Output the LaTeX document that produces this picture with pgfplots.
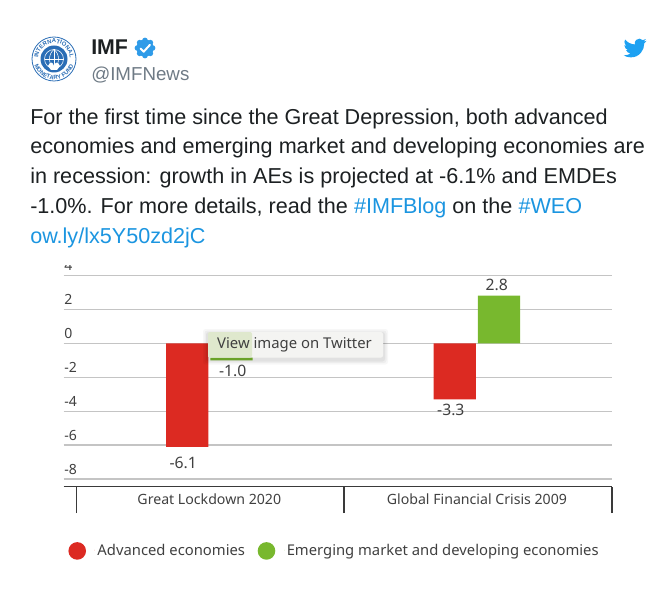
\documentclass[border=0pt]{standalone}
\usepackage{fontspec}
\setmainfont{Liberation Sans}
\newfontfamily\chartfont{Noto Sans}
\usepackage{pgfplots}
\pgfplotsset{compat=1.18}
\usetikzlibrary{svg.path,decorations.text}
\definecolor{gridc}{HTML}{C4C4C4}
\definecolor{axc}{HTML}{3A3A3A}
\definecolor{txtc}{HTML}{404040}
\definecolor{redb}{HTML}{DC2A22}
\definecolor{greenb}{HTML}{78B82E}
\definecolor{twblue}{HTML}{1B95E0}
\definecolor{birdc}{HTML}{1DA1F2}
\definecolor{badge}{HTML}{2F9BE8}
\definecolor{sealb}{HTML}{2A6DB5}
\definecolor{handle}{HTML}{6E7A85}
\definecolor{body}{HTML}{1C2022}
\definecolor{tipc}{HTML}{F4F4F2}
\definecolor{tipg}{HTML}{DFE8CD}
\newcommand{\tw}{\fontsize{16.2pt}{18pt}\selectfont\color{body}}
\newcommand{\lnk}[1]{\textcolor{twblue}{#1}}
\begin{document}
\begin{tikzpicture}
\path[use as bounding box] (0,0) rectangle (659*0.75pt,-591*0.75pt);
\begin{axis}[
  at={(63.5*0.75pt,-486.5*0.75pt)}, anchor=south west,
  scale only axis, width=411.4pt, height=158.4pt,
  ybar=1.43pt, bar width=31.7pt,
  xmin=-0.5448, xmax=1.5049, ymin=-8.43, ymax=4,
  axis lines*=left, axis line style={-},
  y axis line style={draw=none},
  x axis line style={draw=axc, line width=1.1pt},
  clip=false,
  tick align=outside,
  ytick={-8,-6,-4,-2,0,2,4},
  yticklabels={-8,-6,-4,-2,0,2,4},
  ymajorgrids, grid style={gridc, line width=1.1pt},
  major tick length=0pt,
  yticklabel style={anchor=south west, font=\chartfont\fontsize{10.5pt}{12pt}\selectfont, text=txtc, inner sep=0pt, xshift=0.4pt, yshift=3.1pt},
  xtick={0,1},
  xticklabels={Great Lockdown 2020,Global Financial Crisis 2009},
  xticklabel style={font=\chartfont\fontsize{10.6pt}{12pt}\selectfont, text=txtc, inner sep=0pt, yshift=-5.5pt},
  extra x ticks={-0.4955,0.5034,1.5049},
  extra x tick labels={},
  extra x tick style={major tick length=20pt, tick style={draw=axc, line width=0.9pt}, grid=none},
  nodes near coords,
  point meta=y,
  every node near coord/.append style={font=\chartfont\fontsize{11.8pt}{12pt}\selectfont, text=txtc, inner sep=3.2pt, /pgf/number format/.cd, fixed, fixed zerofill, precision=1, assume math mode=true},
  legend style={at={(0.0085,-0.305)}, anchor=west, draw=none, fill=none, inner sep=0pt, font=\chartfont\fontsize{11.1pt}{12pt}\selectfont, text=txtc, /tikz/every even column/.append style={column sep=7.5pt}},
  legend columns=2, legend cell align=left,
  legend image code/.code={\fill[#1,draw=none] (0cm,0cm) circle (6.6pt);\path (13.2pt,0pt) -- (13.2pt,1pt);},
]
\addplot[fill=redb, draw=none, coordinate style/.condition={\coordindex==0}{xshift=-3pt,yshift=-4pt}, coordinate style/.condition={\coordindex==1}{xshift=-3pt}] coordinates {(0,-6.1) (1,-3.3)};
\addplot[fill=greenb, draw=none, coordinate style/.condition={\coordindex==0}{xshift=1pt}, coordinate style/.condition={\coordindex==1}{xshift=-1.7pt}] coordinates {(0,-1.0) (1,2.8)};
\legend{Advanced economies,Emerging market and developing economies}
\end{axis}
\begin{scope}[x=0.75pt,y=-0.75pt]
% cover of the clipped top label
\fill[white] (55,252) rectangle (90,265);
% tooltip
\foreach \o/\a in {5/0.03,3.5/0.04,2/0.05}{\fill[black,opacity=\a,rounded corners=2pt] (208-\o,332-\o+2) rectangle (383+\o,357.5+\o+2);}
\fill[tipc,rounded corners=1.5pt] (208,332) rectangle (383,357.5);
\fill[tipg,rounded corners=1.5pt] (208,332) rectangle (252,357.5);
\node[anchor=center,inner sep=0pt,text=txtc,font=\chartfont\fontsize{11.15pt}{12pt}\selectfont] at (294.5,345) {View image on Twitter};
% tweet text
\node[anchor=base west,inner sep=0pt] at (30,124.5) {\tw For the first time since the Great Depression, both advanced};
\node[anchor=base west,inner sep=0pt] at (30,154) {\tw economies and emerging market and developing economies are};
\node[anchor=base west,inner sep=0pt] at (30,183.5) {\tw in recession: growth in AEs is projected at -6.1\% and EMDEs};
\node[anchor=base west,inner sep=0pt] at (30,213.5) {\tw -1.0\%. For more details, read the \lnk{\#IMFBlog} on the \lnk{\#WEO}};
\node[anchor=base west,inner sep=0pt] at (30,243.5) {\tw \lnk{ow.ly/lx5Y50zd2jC}};
% header
\node[anchor=base west,inner sep=0pt] at (91,55) {\fontsize{16pt}{18pt}\selectfont\bfseries\color{body} IMF};
\node[anchor=base west,inner sep=0pt] at (91,80.5) {\fontsize{14.05pt}{16pt}\selectfont\color{handle} @IMFNews};
% badge
\fill[badge] (145,48) circle (8.6);
\foreach \t in {0,45,...,315}{\fill[badge] (145,48) ++(\t:7.6) circle (2.8);}
\draw[white,line width=1.5pt,line cap=round,line join=round] (140.5,48.5) -- (143.7,51.7) -- (150,44.8);
% seal
\draw[sealb,line width=0.6pt] (54,59) circle (22);
\fill[sealb] (54,59) circle (13.5);
\draw[white,line width=0.4pt] (54,59) circle (9.5);
\draw[white,line width=0.4pt] (44.5,59) -- (63.5,59) (54,49.5) -- (54,68.5);
\draw[white,line width=0.4pt] (54,49.5) .. controls (48,54) and (48,64) .. (54,68.5) .. controls (60,64) and (60,54) .. (54,49.5);
\fill[white] (48,66) .. controls (50,61) and (53,62) .. (54,66) .. controls (55,62) and (58,61) .. (60,66) -- (57,70) -- (51,70) -- cycle;
\path[postaction={decorate},decoration={text along path,text align=center,text={|\fontsize{4.4pt}{5pt}\selectfont\bfseries\color{sealb}|INTERNATIONAL}}] (38,59) arc[start angle=180,end angle=360,radius=16];
\path[postaction={decorate},decoration={text along path,text align=center,text={|\fontsize{4.4pt}{5pt}\selectfont\bfseries\color{sealb}|MONETARY FUND}}] (33.5,59) arc[start angle=180,end angle=0,radius=20.5];
\end{scope}
% bird
\begin{scope}[shift={(623.5*0.75pt,-36.5*0.75pt)},x=0.75pt,y=-0.75pt]
\fill[birdc,xscale=1,yscale=-1,scale=0.72] svg[scale=1] "M23.953 4.57 a10 10 0 0 1 -2.825 0.775 4.958 4.958 0 0 0 2.163 -2.723 c-0.951 0.555 -2.005 0.959 -3.127 1.184 a4.92 4.92 0 0 0 -8.384 4.482 C7.69 8.095 4.067 6.13 1.64 3.162 a4.822 4.822 0 0 0 -0.666 2.475 c0 1.71 0.87 3.213 2.188 4.096 a4.904 4.904 0 0 1 -2.228 -0.616 v0.06 a4.923 4.923 0 0 0 3.946 4.827 4.996 4.996 0 0 1 -2.212 0.085 4.936 4.936 0 0 0 4.604 3.417 9.867 9.867 0 0 1 -6.102 2.105 c-0.39 0 -0.779 -0.023 -1.17 -0.067 a13.995 13.995 0 0 0 7.557 2.209 c9.053 0 13.998 -7.496 13.998 -13.985 0 -0.21 0 -0.42 -0.015 -0.63 A9.935 9.935 0 0 0 24 4.59 z";
\end{scope}
\end{tikzpicture}
\end{document}
